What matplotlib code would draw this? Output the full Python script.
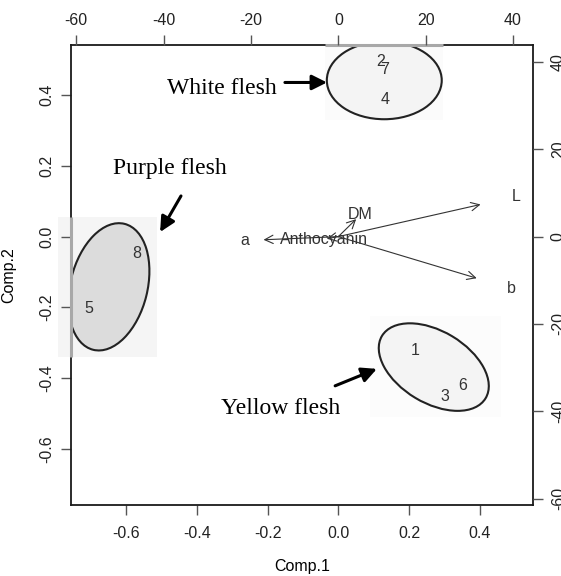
import matplotlib
matplotlib.use("Agg")
import matplotlib.pyplot as plt
from matplotlib.patches import Ellipse, Rectangle

# PCA scores (bottom / left axes)
samples = ["1", "2", "3", "4", "5", "6", "7", "8"]
comp1 = [0.217, 0.121, 0.302, 0.132, -0.707, 0.351, 0.132, -0.570]
comp2 = [-0.322, 0.494, -0.451, 0.387, -0.203, -0.422, 0.474, -0.047]

# loadings (top / right axes)
variables = ["L", "b", "a", "DM", "Anthocyanin"]
load1 = [40.7, 39.6, -21.4, 5.1, -3.3]
load2 = [9.2, -11.9, -0.9, 5.0, -0.6]

# group ellipses: centre, width, height, angle, fill
groups = ["White flesh", "Purple flesh", "Yellow flesh"]
ell_x = [0.130, -0.649, 0.270]
ell_y = [0.442, -0.142, -0.369]
ell_w = [0.325, 0.367, 0.342]
ell_h = [0.220, 0.218, 0.203]
ell_angle = [0, 76, -31]
ell_fill = ["#f4f4f4", "#dcdcdc", "#f4f4f4"]

# backing boxes behind the ellipses (x0, x1, y0, y1)
box_x0 = [-0.038, -0.793, 0.09]
box_x1 = [0.296, -0.513, 0.46]
box_y0 = [0.329, -0.341, -0.51]
box_y1 = [0.542, 0.056, -0.225]
box_fill = ["#fbfbfb", "#f5f5f5", "#fcfcfc"]

# callouts: text position, arrow tail, arrow head
lab_x = [-0.329, -0.476, -0.162]
lab_y = [0.420, 0.194, -0.487]
tail_x = [-0.151, -0.445, -0.009]
tail_y = [0.436, 0.115, -0.422]
head_x = [-0.032, -0.504, 0.109]
head_y = [0.436, 0.013, -0.374]

xlim = (-0.756, 0.550)
ylim = (-0.759, 0.542)
scale = 80.94  # loadings units per score unit

plt.rcParams["font.family"] = ["Liberation Sans", "DejaVu Sans"]
plt.rcParams["axes.unicode_minus"] = False

fig = plt.figure(figsize=(5.61, 5.76), dpi=100)
ax = fig.add_axes([0.1266, 0.1233, 0.8231, 0.7986])
ax.set_xlim(*xlim)
ax.set_ylim(*ylim)

for i in range(len(groups)):
    ax.add_patch(Rectangle((box_x0[i], box_y0[i]), box_x1[i] - box_x0[i],
                           box_y1[i] - box_y0[i], facecolor=box_fill[i],
                           edgecolor="none", zorder=0, clip_on=False))
    ax.add_patch(Ellipse((ell_x[i], ell_y[i]), ell_w[i], ell_h[i],
                         angle=ell_angle[i], facecolor=ell_fill[i],
                         edgecolor="#222222", lw=1.5, zorder=1))

# grey strips where the pasted boxes overlap the frame
ax.plot([box_x0[0], box_x1[0]], [ylim[1], ylim[1]], color="#a8a8a8",
        lw=2.2, zorder=5, clip_on=False, solid_capstyle="butt")
ax.plot([xlim[0], xlim[0]], [box_y0[1], box_y1[1]], color="#a8a8a8",
        lw=2.2, zorder=5, clip_on=False, solid_capstyle="butt")

for s, x, y in zip(samples, comp1, comp2):
    ax.text(x, y, s, ha="center", va="center", fontsize=11.5,
            color="#333333", zorder=3)

# loadings on secondary scale
for v, x, y in zip(variables, load1, load2):
    ax.annotate("", xy=(0.8 * x / scale, 0.8 * y / scale), xytext=(0, 0),
                arrowprops=dict(arrowstyle="->,head_length=0.6,head_width=0.3",
                                color="#333333", lw=0.8,
                                shrinkA=0, shrinkB=0), zorder=2)
    ax.text(x / scale, y / scale, v, ha="center", va="center",
            fontsize=11.5, color="#333333", zorder=3)

for i, g in enumerate(groups):
    ax.text(lab_x[i], lab_y[i], g, ha="center", va="center", fontsize=17,
            family="Liberation Serif", color="black", zorder=4)
    ax.annotate("", xy=(head_x[i], head_y[i]), xytext=(tail_x[i], tail_y[i]),
                arrowprops=dict(arrowstyle="-|>,head_length=0.9,head_width=0.45",
                                color="black", lw=2.2, shrinkA=0, shrinkB=0),
                zorder=4)

ax.set_xticks([-0.6, -0.4, -0.2, 0.0, 0.2, 0.4])
ax.set_yticks([-0.6, -0.4, -0.2, 0.0, 0.2, 0.4])
ax.set_xticklabels(["-0.6", "-0.4", "-0.2", "0.0", "0.2", "0.4"])
ax.set_yticklabels(["-0.6", "-0.4", "-0.2", "0.0", "0.2", "0.4"],
                   rotation=90, va="center")
ax.set_xlabel("Comp.1", fontsize=11.5)
ax.set_ylabel("Comp.2", fontsize=11.5)
ax.xaxis.set_label_coords(0.5, -0.118)
ax.yaxis.set_label_coords(-0.118, 0.5)

sec_ticks = [-60, -40, -20, 0, 20, 40]
axt = ax.twiny()
axt.set_xlim(xlim[0] * scale, xlim[1] * scale)
axt.set_xticks(sec_ticks)
axr = ax.twinx()
axr.set_ylim(ylim[0] * scale, ylim[1] * scale)
axr.set_yticks(sec_ticks)
axr.set_yticklabels([str(t) for t in sec_ticks], rotation=90, va="center")
axt.set_frame_on(False)
axr.set_frame_on(False)

for sp in ax.spines.values():
    sp.set_color("#1a1a1a")
    sp.set_linewidth(1.3)
for a in (ax, axt, axr):
    a.tick_params(length=7, width=1, color="#555555", labelsize=11.5,
                  labelcolor="#222222", pad=5)
ax.tick_params(axis="x", pad=8)
axr.tick_params(pad=6)

fig.savefig("out.png", dpi=100)
